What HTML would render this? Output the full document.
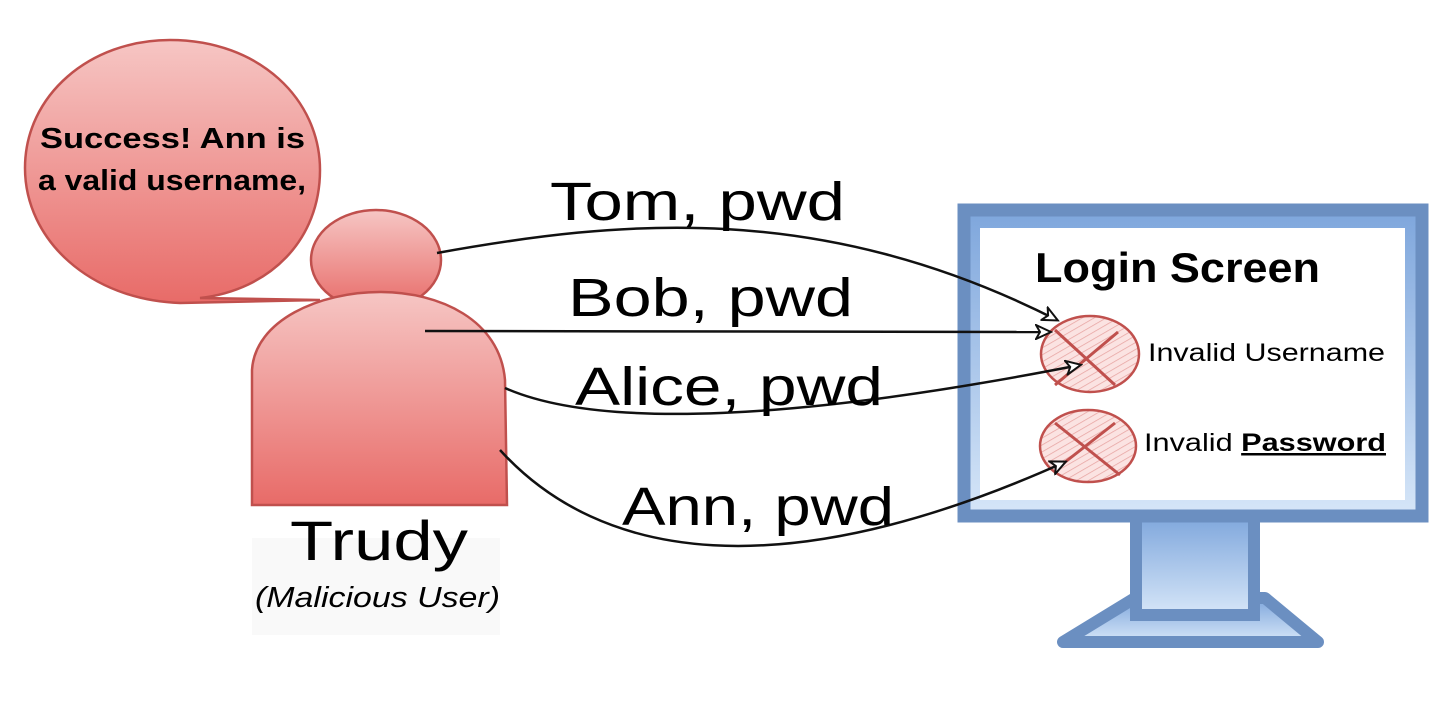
<!DOCTYPE html>
<html><head><meta charset="utf-8"><style>
html,body{margin:0;padding:0;background:#fff;width:1451px;height:702px;overflow:hidden}
svg{display:block}
text{font-family:"Liberation Sans",sans-serif}
</style></head><body>
<svg width="1451" height="702" viewBox="0 0 1451 702" xmlns="http://www.w3.org/2000/svg">
<defs>
<linearGradient id="red" x1="0" y1="0" x2="0" y2="1"><stop offset="0" stop-color="#f6c6c4"/><stop offset="1" stop-color="#e86b68"/></linearGradient>
<linearGradient id="blue" x1="0" y1="0" x2="0" y2="1"><stop offset="0" stop-color="#7ea6dc"/><stop offset="1" stop-color="#d6e6f8"/></linearGradient>
<pattern id="hatch" width="6" height="6" patternUnits="userSpaceOnUse" patternTransform="rotate(60)"><rect width="6" height="6" fill="#fbe3e2"/><line x1="0" y1="0" x2="0" y2="6" stroke="#e7a3a1" stroke-width="1.5"/></pattern>
<marker id="ah" markerWidth="18" markerHeight="16" refX="15" refY="8" orient="auto" markerUnits="userSpaceOnUse"><path d="M1,1 L16,8 L1,15 L5,8 Z" fill="#fff" stroke="#111" stroke-width="2"/></marker>
</defs>
<!-- bubble -->
<path d="M170,40 C260,40 320,100 320,170 C320,240 270,290 200,298 L320,300 L180,303 C90,300 25,240 25,168 C25,95 90,40 170,40 Z" fill="url(#red)" stroke="#c0504d" stroke-width="2.5"/>
<text x="40" y="148" font-size="29" font-weight="bold" textLength="265" lengthAdjust="spacingAndGlyphs" fill="#000">Success! Ann is</text>
<text x="38" y="190" font-size="29" font-weight="bold" textLength="268" lengthAdjust="spacingAndGlyphs" fill="#000">a valid username,</text>
<!-- person -->
<ellipse cx="376" cy="260" rx="65" ry="50" fill="url(#red)" stroke="#c0504d" stroke-width="2.5"/>
<path d="M252,505 L252,370 C255,320 320,292 380,292 C440,292 500,320 505,380 L507,505 Z" fill="url(#red)" stroke="#c0504d" stroke-width="2.5"/>
<rect x="252" y="538" width="248" height="97" fill="#f9f9f9"/>
<text x="290" y="560" font-size="56" textLength="178" lengthAdjust="spacingAndGlyphs" fill="#000">Trudy</text>
<text x="255" y="607" font-size="29" font-style="italic" textLength="245" lengthAdjust="spacingAndGlyphs" fill="#000">(Malicious User)</text>
<!-- monitor -->
<path d="M1135,598 L1063,642 L1318,642 L1265,598 Z" fill="url(#blue)" stroke="#6b8fc1" stroke-width="12" stroke-linejoin="round"/>
<rect x="1136" y="515" width="118" height="100" fill="url(#blue)" stroke="#6b8fc1" stroke-width="12"/>
<rect x="964" y="210" width="458" height="306" fill="url(#blue)" stroke="#6b8fc1" stroke-width="13"/>
<rect x="980" y="228" width="425" height="272" fill="#fff"/>
<text x="1035" y="282" font-size="42" font-weight="bold" textLength="285" lengthAdjust="spacingAndGlyphs" fill="#000">Login Screen</text>
<!-- X circles -->
<ellipse cx="1090" cy="354" rx="49" ry="38" fill="url(#hatch)" stroke="#c0504d" stroke-width="2.5"/>
<path d="M1055,330 L1115,385 M1118,332 L1055,385" stroke="#c0504d" stroke-width="3"/>
<ellipse cx="1088" cy="446" rx="48" ry="36" fill="url(#hatch)" stroke="#c0504d" stroke-width="2.5"/>
<path d="M1055,423 L1120,475 M1115,423 L1055,470" stroke="#c0504d" stroke-width="3"/>
<text x="1148" y="361" font-size="25" textLength="237" lengthAdjust="spacingAndGlyphs" fill="#000">Invalid Username</text>
<text x="1144" y="451" font-size="25" textLength="242" lengthAdjust="spacingAndGlyphs" fill="#000">Invalid <tspan font-weight="bold" text-decoration="underline">Password</tspan></text>
<!-- arrows -->
<path d="M437,253 C620,220 820,200 1057,320" fill="none" stroke="#111" stroke-width="2.5" marker-end="url(#ah)"/>
<path d="M425,331 L1050,332" fill="none" stroke="#111" stroke-width="2.5" marker-end="url(#ah)"/>
<path d="M505,388 C600,430 800,420 1080,365" fill="none" stroke="#111" stroke-width="2.5" marker-end="url(#ah)"/>
<path d="M500,450 C600,560 780,590 1065,462" fill="none" stroke="#111" stroke-width="2.5" marker-end="url(#ah)"/>
<text x="550" y="220" font-size="54" textLength="295" lengthAdjust="spacingAndGlyphs" fill="#000">Tom, pwd</text>
<text x="568" y="316" font-size="54" textLength="285" lengthAdjust="spacingAndGlyphs" fill="#000">Bob, pwd</text>
<text x="575" y="405" font-size="54" textLength="308" lengthAdjust="spacingAndGlyphs" fill="#000">Alice, pwd</text>
<text x="622" y="525" font-size="54" textLength="272" lengthAdjust="spacingAndGlyphs" fill="#000">Ann, pwd</text>
</svg>
</body></html>
